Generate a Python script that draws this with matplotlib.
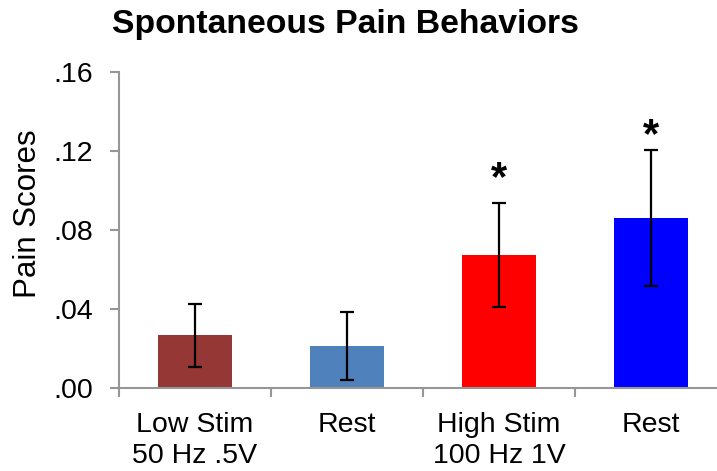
import numpy as np
import matplotlib
matplotlib.use('Agg')
import matplotlib.pyplot as plt

# data
labels = ["Low Stim\n50 Hz .5V", "Rest", "High Stim\n100 Hz 1V", "Rest"]
scores = [0.0267, 0.0211, 0.0673, 0.0860]
errors = [0.0160, 0.0173, 0.0262, 0.0345]
colors = ["#953735", "#4F81BD", "#FF0000", "#0000FF"]
star_y = [None, None, 0.1160, 0.1378]   # top of the significance asterisks
yticks = [0.00, 0.04, 0.08, 0.12, 0.16]
ytick_labels = [".00", ".04", ".08", ".12", ".16"]

plt.rcParams['font.family'] = ['Liberation Sans', 'DejaVu Sans']

W, H = 717, 471
fig = plt.figure(figsize=(W / 100, H / 100), dpi=100)
# axis runs off the right edge like in the original
ax = fig.add_axes([119 / W, 1 - 388 / H, (727 - 119) / W, (388 - 72) / H])

x = np.arange(len(scores))
ax.bar(x, scores, width=0.49, color=colors, zorder=2)
ax.errorbar(x, scores, yerr=errors, fmt='none', ecolor='black',
            elinewidth=1.6, capsize=5, capthick=1.6, zorder=3)

for xi, sy in zip(x, star_y):
    if sy is not None:
        ax.text(xi, sy, "*", ha='center', va='top', fontsize=30, fontweight='bold')

ax.set_xlim(-0.5, 3.5)
ax.set_ylim(0, 0.16)
ax.set_yticks(yticks)
ax.set_yticklabels(ytick_labels, fontsize=20.5)
ax.set_xticks(x)
ax.set_xticklabels(labels, fontsize=20.5, linespacing=1.25)
ax.set_xticks(np.arange(-0.5, 3.6, 1), minor=True)
ax.tick_params(axis='x', which='major', length=0, pad=17)
ax.tick_params(axis='x', which='minor', length=6.5, width=1.5, color='#969696', direction='out')
ax.tick_params(axis='y', length=6.5, width=1.5, color='#969696', direction='out', pad=12)

for side in ['top', 'right']:
    ax.spines[side].set_visible(False)
for side in ['left', 'bottom']:
    ax.spines[side].set_color('#969696')
    ax.spines[side].set_linewidth(1.5)

fig.text(28.5 / W, 1 - 213.5 / H, "Pain Scores", rotation=90, ha='center', va='center',
         fontsize=22.5)
fig.text(345 / W, 1 - 33 / H, "Spontaneous Pain Behaviors", ha='center', va='baseline',
         fontsize=24.3, fontweight='bold')

fig.savefig("out.png", dpi=100)
